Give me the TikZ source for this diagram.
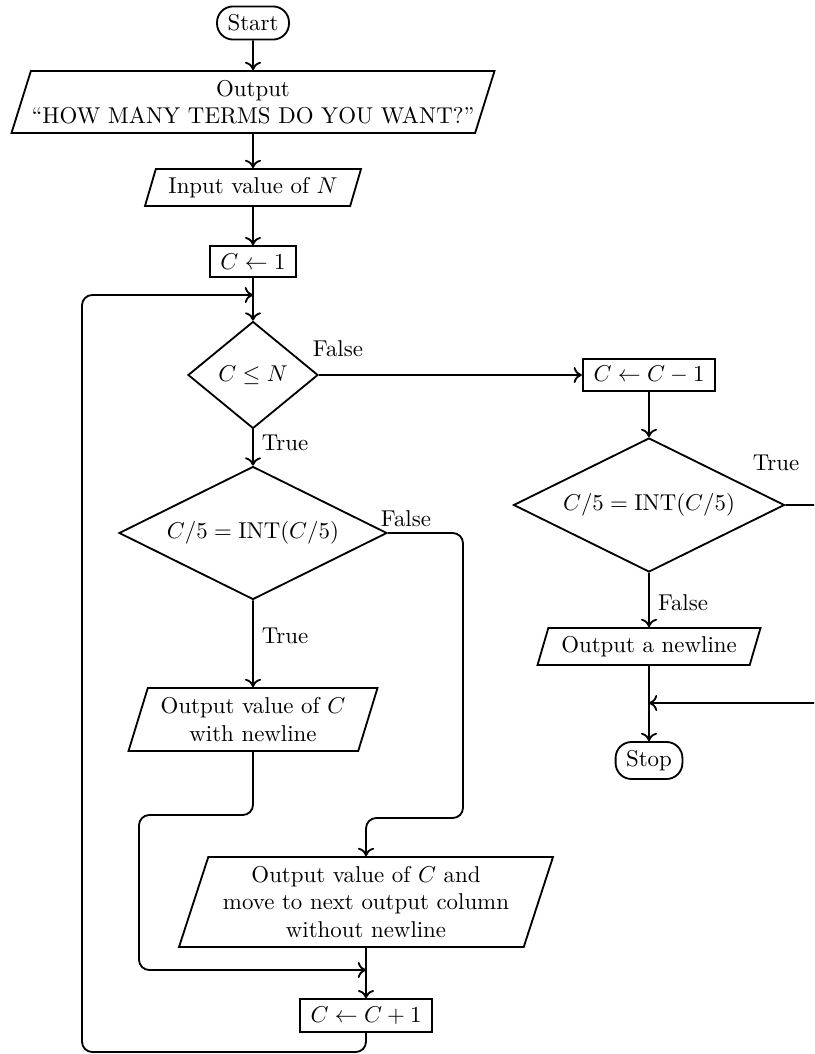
\documentclass[tikz,border=0pt]{standalone}
\usepackage{fontspec}
\usetikzlibrary{shapes.geometric,arrows.meta}
% one drawing unit, in pt
\def\pxu{0.437}
\begin{document}
\begin{tikzpicture}[x=\pxu pt,y=-\pxu pt,
  term/.style={draw, thick, rectangle, rounded corners=7pt, inner xsep=4.6pt, inner ysep=3.6pt},
  proc/.style={draw, thick, rectangle, inner xsep=4.7pt, inner ysep=3.3pt},
  io/.style={draw, thick, trapezium, trapezium left angle=70, trapezium right angle=110,
             trapezium stretches body, align=center, inner sep=2pt},
  dec/.style={draw, thick, diamond, inner sep=1pt},
  lab/.style={inner sep=1pt},
  arr/.style={thick, -{To[length=3.6pt,width=7pt]}},
  flow/.style={arr, rounded corners=4.5pt}]
\useasboundingbox (0,0) rectangle (814,1054);
\clip (0,0) rectangle (814,1054);

% main column
\node[term] (start) at (253,23) {Start};
\node[io, inner xsep=0pt, minimum width={483*\pxu*1pt}, minimum height={62*\pxu*1pt}] (out1)
  at (253,102) {Output\\``HOW MANY TERMS DO YOU WANT?''};
\node[io, minimum width={216*\pxu*1pt}, minimum height={37*\pxu*1pt}] (inN) at (253,187.5)
  {Input value of $N$};
\node[proc] (c1) at (253,261.5) {$C \leftarrow 1$};
\node[dec, shape aspect=1.2, minimum width={130*\pxu*1pt}, minimum height={107*\pxu*1pt}] (d1)
  at (253,375) {$C \le N$};
\node[dec, shape aspect=2, minimum width={268*\pxu*1pt}, minimum height={133*\pxu*1pt}] (d2)
  at (253,533) {$C/5 = \mathrm{INT}(C/5)$};
\node[io, minimum width={249*\pxu*1pt}, minimum height={63*\pxu*1pt}] (outC) at (253,719.5)
  {Output value of $C$\\with newline};
\node[io, minimum width={374*\pxu*1pt}, minimum height={90*\pxu*1pt}] (big) at (366,902)
  {Output value of $C$ and\\move to next output column\\without newline};
\node[proc] (cinc) at (366,1015.5) {$C \leftarrow C+1$};

% right column
\node[proc] (cdec) at (649,375) {$C \leftarrow C-1$};
\node[dec, shape aspect=2, minimum width={271*\pxu*1pt}, minimum height={134*\pxu*1pt}] (d3)
  at (649,505) {$C/5 = \mathrm{INT}(C/5)$};
\node[io, minimum width={223*\pxu*1pt}, minimum height={37*\pxu*1pt}] (outNL) at (649,646.5)
  {Output a newline};
\node[term] (stop) at (649,760.5) {Stop};

% branch labels
\node[lab] (f1) at (338,349) {False};
\node[lab] (t1) at (285,443) {True};
\node[lab] (f2) at (406,519) {False};
\node[lab] (t2) at (285,636) {True};
\node[lab] (t3) at (776,463) {True};
\node[lab] (f3) at (683,603) {False};

% routing points
\coordinate (j1) at (463,818);
\coordinate (j2) at (139,815);
\coordinate (m1) at (366,970);
\coordinate (l1) at (82,1052);
\coordinate (l2) at (253,295);
\coordinate (r1) at (850,703);
\coordinate (r2) at (649,703);

% connectors
\draw[arr] (start) -- (out1);
\draw[arr] (out1) -- (inN);
\draw[arr] (inN) -- (c1);
\draw[arr] (c1) -- (d1);
\draw[arr] (d1.east) -- (cdec.west);
\draw[arr] (d1.south) -- (d2.north);
\draw[arr] (d2.south) -- (outC.north);
\draw[flow] (d2.east) -| (j1) -| (big.north);
\draw[flow] (outC.south) |- (j2) |- (m1);
\draw[arr] (big) -- (cinc);
\draw[flow] (cinc.south) |- (l1) |- (l2);
\draw[arr] (cdec) -- (d3);
\draw[arr] (d3) -- (outNL);
\draw[arr] (outNL) -- (stop);
\draw[flow] (d3.east) -| (r1) -- (r2);
\end{tikzpicture}
\end{document}
